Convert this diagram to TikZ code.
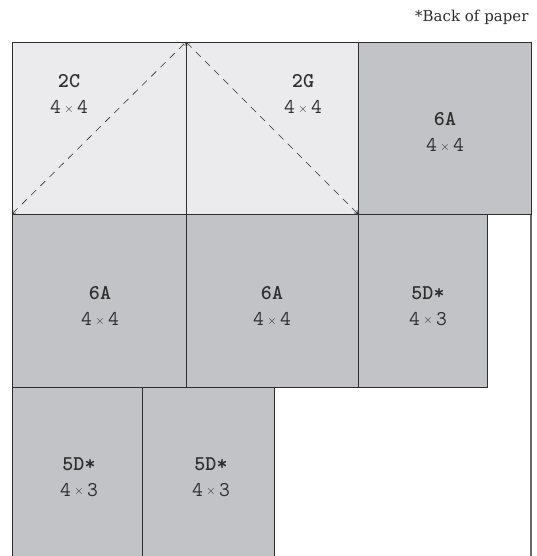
\documentclass[tikz,border=0pt]{standalone}
\usepackage{fontspec}
\newfontfamily\notefont{DejaVu Serif}
\usetikzlibrary{arrows.meta}
\definecolor{lightcell}{HTML}{EBEBED}
\definecolor{darkcell}{HTML}{C2C3C6}
\definecolor{ink}{HTML}{2E2E2E}
\definecolor{framegray}{HTML}{6A6A6A}
\newcommand{\tms}{{\fontsize{12}{12}\selectfont\raisebox{1.5pt}{$\times$}}}
\tikzset{
  cell/.style={draw=ink, line width=0.9pt},
  lcell/.style={cell, fill=lightcell},
  dcell/.style={cell, fill=darkcell},
  lbl/.style={text=ink, align=center, font=\ttfamily\fontsize{21}{26}\selectfont},
  fold/.style={draw=ink, line width=0.6pt, dash pattern=on 7pt off 6pt, {Straight Barb[length=3pt,width=4pt]}-{Straight Barb[length=3pt,width=4pt]}},
}
\begin{document}
\begin{tikzpicture}[x=1pt,y=-1pt]
\useasboundingbox (0,0) rectangle (536,556);
% frame
\draw[framegray, line width=1.2pt] (531,42) -- (531,556);
% row 1
\draw[lcell] (12,42) rectangle (186,214);
\draw[lcell] (186,42) rectangle (358,214);
\draw[dcell] (358,42) rectangle (531,214);
% row 2
\draw[dcell] (12,214) rectangle (186,387);
\draw[dcell] (186,214) rectangle (358,387);
\draw[dcell] (358,214) rectangle (487,387);
% row 3
\draw[dcell] (12,387) rectangle (142,560);
\draw[dcell] (142,387) rectangle (274,560);
% fold lines
\coordinate (bl) at (12,214);
\coordinate (tm) at (186,42);
\coordinate (br) at (358,214);
\draw[fold] (bl) -- (tm);
\draw[fold] (tm) -- (br);
% labels
\node[lbl] (c2c) at (69,94) {\textbf{2C}\\4\,\tms\,4};
\node[lbl] (c2g) at (303,94) {\textbf{2G}\\4\,\tms\,4};
\node[lbl] (c6a1) at (445,132) {\textbf{6A}\\4\,\tms\,4};
\node[lbl] (c6a2) at (100,306) {\textbf{6A}\\4\,\tms\,4};
\node[lbl] (c6a3) at (272,306) {\textbf{6A}\\4\,\tms\,4};
\node[lbl] (c5d1) at (428,306) {\textbf{5D*}\\4\,\tms\,3};
\node[lbl] (c5d2) at (79,477) {\textbf{5D*}\\4\,\tms\,3};
\node[lbl] (c5d3) at (211,477) {\textbf{5D*}\\4\,\tms\,3};
\node[text=ink, anchor=east, font=\notefont\fontsize{15}{17}\selectfont] (note) at (532,17) {*Back of paper};
\end{tikzpicture}
\end{document}
